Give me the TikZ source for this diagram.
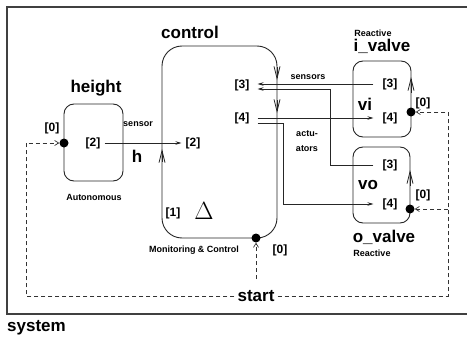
\documentclass[tikz,border=0pt]{standalone}
\usepackage{fontspec}
\setmainfont{Liberation Sans}
\usetikzlibrary{arrows.meta}
\begin{document}
\begin{tikzpicture}[x=1pt,y=-1pt,
  box/.style={draw=black!85, line width=0.9pt, rounded corners=10pt, inner sep=0pt},
  lbl/.style={font=\fontsize{12}{13}\selectfont\bfseries, inner sep=0pt},
  big/.style={font=\fontsize{17}{18}\selectfont\bfseries, inner sep=0pt},
  small/.style={font=\fontsize{9}{10}\selectfont\bfseries, inner sep=0pt},
  dot/.style={circle, fill=black, inner sep=0pt, minimum size=9pt},
  sig/.style={line width=0.7pt, draw=black!85, -{Stealth[length=6pt,width=3.5pt]}},
  dsh/.style={line width=0.7pt, draw=black!80, dash pattern=on 4pt off 3pt},
  dsharr/.style={dsh, -{Straight Barb[length=4pt,width=5pt]}},
  vtip/.style={line width=0.8pt, draw=black!85, -{Straight Barb[length=12pt,width=6pt]}}
]
\useasboundingbox (0,0) rectangle (467,340);
% outer frame
\draw[line width=1.6pt, draw=black!75] (467,7) -- (7,7) -- (7,314) -- (467,314);
\node[big, anchor=west] (sys) at (7,328) {system};

% boxes
\node[box, minimum width=59pt, minimum height=77pt] (hbox) at (93.5,142.5) {};
\node[box, rounded corners=20pt, minimum width=115pt, minimum height=192pt] (cbox) at (219.5,142) {};
\node[box, minimum width=58pt, minimum height=76pt] (vibox) at (382,99) {};
\node[box, minimum width=57pt, minimum height=76pt] (vobox) at (381.5,185) {};

% titles
\node[big] (ht) at (96,88) {height};
\node[big] (ct) at (190,32) {control};
\node[small] (vir) at (373,33) {Reactive};
\node[big] (vit) at (382,46) {i\_valve};
\node[big] (vot) at (384,237) {o\_valve};
\node[small] (vor) at (372,253) {Reactive};
\node[small] (ha) at (94,197) {Autonomous};
\node[small] (cm) at (194,250) {Monitoring \& Control};

% ports and inner labels
\node[lbl] (h0) at (52,128) {[0]};
\node[lbl] (h2) at (93,143) {[2]};
\node[big] (hh) at (137,156) {h};
\node[small] (sen) at (138,124) {sensor};
\node[lbl] (c2) at (193,143) {[2]};
\node[lbl] (c3) at (242,85) {[3]};
\node[lbl] (c4) at (242,118) {[4]};
\node[lbl] (c1) at (173,213) {[1]};
\node[font=\fontsize{26}{30}\selectfont, inner sep=0pt] (cd) at (204,211) {$\Delta$};
\node[lbl] (c0) at (280,250) {[0]};
\node[small] (sens) at (308,77) {sensors};
\node[small] (act1) at (307,134) {actu-};
\node[small] (act2) at (307,149) {ators};
\node[lbl] (vi3) at (390,84) {[3]};
\node[lbl] (vi4) at (390,118) {[4]};
\node[big] (vin) at (365,104) {vi};
\node[lbl] (vi0) at (423,103) {[0]};
\node[lbl] (vo3) at (390,165) {[3]};
\node[lbl] (vo4) at (390,204) {[4]};
\node[big] (von) at (368,185) {vo};
\node[lbl] (vo0) at (423,195) {[0]};

% dots
\node[dot] (hdot) at (64,143) {};
\node[dot] (cdot) at (256,238) {};
\node[dot] (vidot) at (411,112) {};
\node[dot] (vodot) at (410,209) {};

% direction marks on the box edges
\draw[vtip] (277,67) -- (277,80);
\draw[vtip] (277,100) -- (277,113);
\draw[vtip] (162,162) -- (162,149);
\draw[vtip] (411,93) -- (411,77);
\draw[vtip] (410,186) -- (410,170);

% signal connectors
\draw[sig] ([xshift=4pt]h2.east) -- ([xshift=-4pt]c2.west);
\draw[sig] ([xshift=-9pt]vi3.west) -- ([xshift=8pt]c3.east |- vi3.west);
\coordinate (sj) at (330,89);
\draw[sig] ([xshift=-9pt]vo3.west) -| (sj) -- ([xshift=8pt]c3.east |- sj);
\draw[sig] ([xshift=8pt]c4.east) -- ([xshift=-9pt]vi4.west |- c4.east);
\coordinate (aj) at (283,123);
\draw[sig] ([xshift=8pt]c4.east |- aj) -- (aj) |- ([xshift=-9pt]vo4.west);

% start connectors
\node[big, inner sep=3pt] (start) at (256,296) {start};
\coordinate (sl) at (26,296);
\coordinate (sr) at (448,296);
\draw[dsharr] (start.west) -- (sl) |- (hdot);
\draw[dsharr] (start.east) -- (sr) |- (vidot);
\draw[dsharr] (sr |- vodot) -- (vodot);
\draw[dsharr, shorten <=8pt] (start.north) -- (cdot);
\end{tikzpicture}
\end{document}
